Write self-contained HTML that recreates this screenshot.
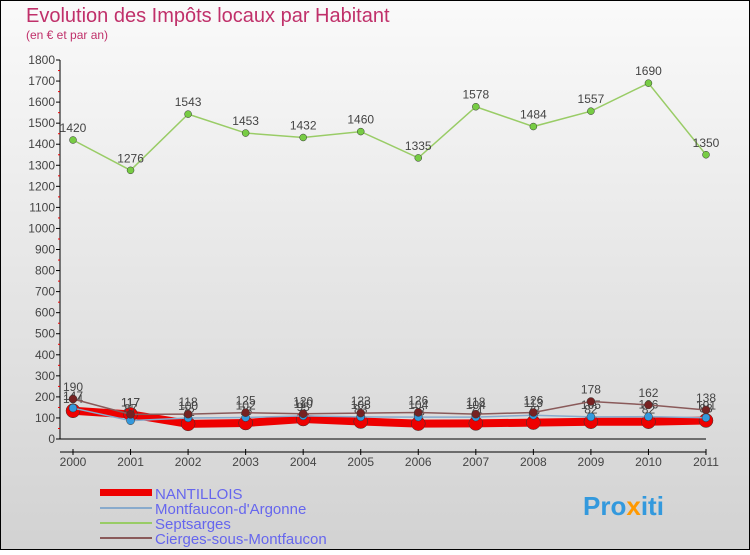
<!DOCTYPE html>
<html><head><meta charset="utf-8"><style>
body{margin:0;width:750px;height:550px;overflow:hidden;font-family:"Liberation Sans",sans-serif}
</style></head><body>
<svg id="chart" width="750" height="550" xmlns="http://www.w3.org/2000/svg">
<defs><linearGradient id="bg" x1="0" y1="0" x2="0" y2="1"><stop offset="0" stop-color="#fafafa"/><stop offset="1" stop-color="#d2d2d2"/></linearGradient></defs>
<rect x="0.5" y="0.5" width="749" height="549" fill="url(#bg)" stroke="#000"/>
<text x="26" y="22" font-size="20" fill="#c0306a">Evolution des Impôts locaux par Habitant</text>
<text x="26" y="39" font-size="12" fill="#c0306a">(en € et par an)</text>
<g id="axes"></g><g id="series"></g>
<g>
<rect x="100" y="489" width="52" height="7" fill="#e00"/>
<text x="155" y="499" font-size="15" fill="#6666ee">NANTILLOIS</text>
<line x1="100" y1="508" x2="152" y2="508" stroke="#88aacc" stroke-width="2"/>
<text x="155" y="514" font-size="15" fill="#6666ee">Montfaucon-d'Argonne</text>
<line x1="100" y1="523" x2="152" y2="523" stroke="#99cc66" stroke-width="2"/>
<text x="155" y="529" font-size="15" fill="#6666ee">Septsarges</text>
<line x1="100" y1="538" x2="152" y2="538" stroke="#8a5a5a" stroke-width="2"/>
<text x="155" y="544" font-size="15" fill="#6666ee">Cierges-sous-Montfaucon</text>
</g>
<text x="583" y="515" font-size="26" font-weight="bold" fill="#3399dd">Pro<tspan fill="#ff9900">x</tspan>iti</text>
</svg>
<script>
const years=[2000,2001,2002,2003,2004,2005,2006,2007,2008,2009,2010,2011];
const yTicks=[0,100,200,300,400,500,600,700,800,900,1000,1100,1200,1300,1400,1500,1600,1700,1800];
const nantillois=[134,117,72,76,95,83,73,74,78,82,82,88];
const montfaucon=[147,87,100,102,110,105,104,104,113,105,106,101];
const septsarges=[1420,1276,1543,1453,1432,1460,1335,1578,1484,1557,1690,1350];
const cierges=[190,117,118,125,120,123,126,118,126,178,162,138];
const NS="http://www.w3.org/2000/svg";
const xS=i=>73+i*(706-73)/(years.length-1);
const yS=v=>439-v*(379/1800);
function mk(t,a,p){const e=document.createElementNS(NS,t);for(const k in a)e.setAttribute(k,a[k]);p.appendChild(e);return e;}
const ax=document.getElementById('axes'),sg=document.getElementById('series');
let l=mk('line',{x1:60,y1:60,x2:60,y2:439,stroke:'#000'},ax);

l=mk('line',{x1:60,y1:439,x2:706,y2:439,stroke:'#000'},ax);

yTicks.forEach(v=>{const y=yS(v);mk('line',{x1:56,y1:y,x2:60,y2:y,stroke:'#000'},ax);
 if(v<1800)mk('line',{x1:58,y1:y-10.5,x2:60,y2:y-10.5,stroke:'#e00'},ax);
 const t=mk('text',{x:55,y:y+4,'font-size':12,fill:'#444','text-anchor':'end'},ax);t.textContent=v;
 });
years.forEach((yr,i)=>{const x=xS(i);mk('line',{x1:x,y1:449,x2:x,y2:455,stroke:'#000'},ax);
 mk('line',{x1:60,y1:452,x2:706,y2:452,stroke:'#000'},ax);
 const t=mk('text',{x:x,y:466,'font-size':12,fill:'#444','text-anchor':'middle'},ax);t.textContent=yr;
 });
function series(data,name,color,w,r,dot,labels){
 const g=mk('g',{},sg);
 const p=mk('polyline',{points:data.map((v,i)=>xS(i)+','+yS(v)).join(' '),fill:'none',stroke:color,'stroke-width':w},g);
 
 data.forEach((v,i)=>{const c=mk('circle',{cx:xS(i),cy:yS(v),r:r,fill:dot,stroke:'#333','stroke-width':0.5},g);
  
  if(labels){const t=mk('text',{x:xS(i),y:yS(v)-8,'font-size':12,fill:'#444','text-anchor':'middle'},g);t.textContent=v;
  }});
}
series(septsarges,'septsarges','#99cc66',1.5,3.5,'#77cc44',true);
series(nantillois,'nantillois','#ee0000',8,7,'#ee0000',true);
series(montfaucon,'montfaucon','#88aacc',1.5,4,'#3399dd',true);
series(cierges,'cierges','#8a5a5a',1.5,4,'#772222',true);
</script>
</body></html>
